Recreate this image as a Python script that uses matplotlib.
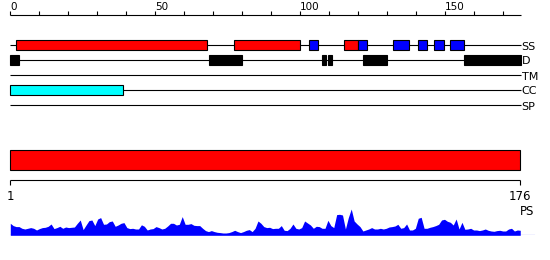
import matplotlib
matplotlib.use("Agg")
import matplotlib.pyplot as plt
from matplotlib.patches import Rectangle
import numpy as np

# sequence length and feature tracks (residue start, end)
seq_len = 176
ss_helix = [(2, 68), (77, 100), (115, 120)]
ss_strand = [(103, 106), (120, 123), (132, 137.5), (140.7, 143.8), (146, 149.7), (151.7, 156.6)]
disorder = [(0, 3), (68.5, 80), (107.5, 109), (109.7, 111), (121.6, 130), (156.4, 176)]
coiled_coil = [(0, 39)]
track_names = ["SS", "D", "TM", "CC", "SP"]

# per residue PS profile (1..176)
ps = [12, 9.7, 8.7, 8.7, 7, 6.3, 7, 7.7, 7, 5.3,
      6.7, 7.7, 8, 9, 11.3, 6.7, 7.7, 9, 7, 8.3,
      7.7, 8, 8.3, 12, 15.3, 5.7, 10.3, 14.7, 15.3, 9.7,
      16.3, 17.7, 11, 11.3, 13.7, 14.3, 9, 10.3, 12, 12.7,
      7.7, 6.7, 7, 6.3, 6.3, 10.5, 9, 5.3, 6.3, 6.7,
      8.7, 7.7, 6.3, 7, 9.3, 12, 12, 10.3, 11, 18.7,
      11, 11, 11.7, 10, 9.7, 9.7, 7, 4.7, 3.7, 4.7,
      3.7, 3, 2.7, 2.3, 2.3, 2.7, 3.7, 5, 3.7, 2.7,
      3.7, 5, 5.7, 3.7, 7, 14.3, 12, 8.7, 7.7, 8,
      6.7, 7, 7, 9.7, 5, 4.7, 7, 11.3, 7, 6.3,
      7.7, 14.3, 12.3, 10.3, 7, 9, 8.7, 7, 7, 15,
      9.7, 7.7, 20.7, 21, 20.3, 6.3, 17.7, 26.3, 14.3, 11.3,
      8.7, 4.3, 5.3, 6.3, 7.7, 6.3, 6.3, 7, 6.3, 7,
      8.3, 8.7, 9.3, 11, 7, 7.7, 11.3, 5.3, 5.3, 7,
      17, 18, 7, 7, 8, 8.7, 9.7, 11, 15.3, 16,
      14, 13, 10.3, 16.3, 6.3, 13, 6, 6.3, 7, 5.3,
      5.3, 4.7, 5.3, 6.3, 5, 4.3, 4, 4.7, 5, 4.3,
      4.3, 6.3, 7, 4.3, 5.3, 5]

W, H = 550, 260
fig = plt.figure(figsize=(W / 100, H / 100), dpi=100)

# top part: 0-based ruler, y in pixels
ax = fig.add_axes([0, 0, 1, 1])
ax.set_xlim(-10.3 / 2.9, (W - 10.3) / 2.9)
ax.set_ylim(H, 0)
ax.axis("off")

# bottom part: 1-based ruler
axb = fig.add_axes([0, 0, 1, 1])
axb.set_xlim(1 - 10.3 / 2.914, 1 + (W - 10.3) / 2.914)
axb.set_ylim(H, 0)
axb.axis("off")

lw = 0.8
rows = {"SS": 45, "D": 60, "TM": 75, "CC": 90, "SP": 105}

# top ruler
ax.hlines(15, 0, seq_len, color="black", lw=lw)
ticks = np.arange(0, seq_len + 1, 10)
ax.vlines(ticks, 11, 15, color="black", lw=lw)
for t in ticks[ticks % 50 == 0]:
    ax.text(t, 10.5, str(t), ha="left", va="baseline", fontsize=7.5)

# tracks
for name in track_names:
    y = rows[name]
    ax.hlines(y, 0, seq_len, color="black", lw=lw, zorder=1)
    ax.text(seq_len + 0.3, y + 4.5, name, ha="left", va="baseline", fontsize=8)


def boxes(spans, y, h, color, edge=True):
    for s, e in spans:
        ax.add_patch(Rectangle((s, y - h / 2), e - s, h, facecolor=color,
                               edgecolor="black" if edge else color, lw=lw, zorder=2))


boxes(ss_helix, rows["SS"], 10, "#ff0000")
boxes(ss_strand, rows["SS"], 10, "#0000ff")
boxes(disorder, rows["D"], 10, "black")
boxes(coiled_coil, rows["CC"], 10, "#00ffff")

# full length bar
axb.add_patch(Rectangle((1, 150.3), seq_len - 1, 20, facecolor="#ff0000",
                        edgecolor="black", lw=lw))

# bottom ruler
axb.hlines(180.3, 1, seq_len, color="black", lw=lw)
axb.vlines([1, seq_len], 180.3, 184.5, color="black", lw=lw)
axb.text(1, 200, "1", ha="center", va="baseline", fontsize=8.5)
axb.text(seq_len, 200, str(seq_len), ha="center", va="baseline", fontsize=8.5)
axb.text(seq_len, 215, "PS", ha="left", va="baseline", fontsize=8.5)

# PS profile
axp = fig.add_axes([0, (H - 235.3) / H, 1, 30 / H])
axp.set_xlim(axb.get_xlim())
axp.set_ylim(0, 30)
axp.axis("off")
res = np.arange(1, seq_len + 1)
axp.fill_between(res, 0, ps, color="#0000ff", lw=0)
axp.axhline(0, xmin=10.3 / W, xmax=534 / W, color="#0000ff", lw=lw)

fig.savefig("out.png", dpi=100)
